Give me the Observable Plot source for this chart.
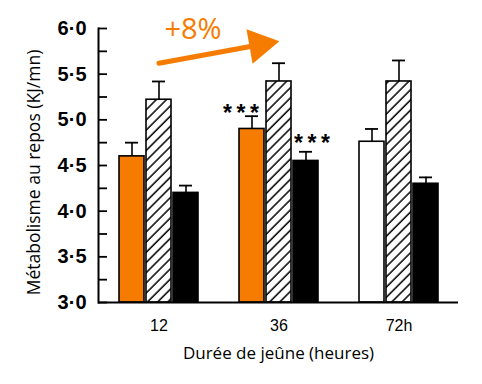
<!DOCTYPE html>
<html><head><meta charset="utf-8">
<script src="https://cdn.jsdelivr.net/npm/d3@7"></script>
<script src="https://cdn.jsdelivr.net/npm/@observablehq/plot@0.6"></script>
<style>body{margin:0;background:#fff}</style>
</head><body><div id="chart"></div>
<script>
// ---- data ----
const groups = ["12", "36", "72h"];
const seriesNames = ["A", "B", "C"];
const valuesA = [4.60, 4.90, 4.76];
const errorsA = [0.15, 0.14, 0.14];
const valuesB = [5.22, 5.42, 5.42];
const errorsB = [0.20, 0.20, 0.23];
const valuesC = [4.20, 4.55, 4.30];
const errorsC = [0.08, 0.10, 0.07];
const yLabelTicks = [3.0, 3.5, 4.0, 4.5, 5.0, 5.5, 6.0];
const yAllTicks = [3.0, 3.25, 3.5, 3.75, 4.0, 4.25, 4.5, 4.75, 5.0, 5.25, 5.5, 5.75, 6.0];
const yTitle = "Métabolisme au repos (KJ/mn)";
const xTitle = "Durée de jeûne (heures)";
const arrowFrom = ["12"], arrowTo = ["36"], arrowY1 = [5.62], arrowY2 = [5.86];
const pctText = ["+8%"], pctGroup = ["12"], pctY = [6.0];
const starGroups = ["36", "36"], starSeries = ["A", "C"], starY = [5.13, 4.80];

// ---- build table ----
const valueSets = {A: [valuesA, errorsA], B: [valuesB, errorsB], C: [valuesC, errorsC]};
const bars = groups.flatMap((g, i) => seriesNames.map(s => ({group: g, series: s, value: valueSets[s][0][i], error: valueSets[s][1][i]})));
const arrows = arrowFrom.map((f, i) => ({from: f, to: arrowTo[i], y1: arrowY1[i], y2: arrowY2[i]}));
const pct = pctText.map((t, i) => ({text: t, group: pctGroup[i], y: pctY[i]}));
const stars = starGroups.map((g, i) => ({group: g, series: starSeries[i], y: starY[i]}));

const ORANGE = "#F57C00";
const W = 482, H = 384, ML = 98, MR = 24, MT = 28, MB = 82;
const step = 27;
const offset = {A: -step, B: 0, C: step};
const starOffset = {A: -38, C: 33};
const fillOf = d => d.series === "A" ? (d.group === "72h" ? "white" : ORANGE) : d.series === "B" ? "url(#hatch)" : "black";
const titleFont = "'Open Sans', Lato, sans-serif";
const tickFont = "'Liberation Sans', Arial, sans-serif";

const seriesMarks = seriesNames.flatMap(s => {
  const data = bars.filter(d => d.series === s);
  return [
    Plot.ruleX(data, {x: "group", y1: "value", y2: d => d.value + d.error, dx: offset[s], stroke: "black", strokeWidth: 1.6}),
    Plot.tickY(data, {x: "group", y: d => d.value + d.error, dx: offset[s], insetLeft: 6, insetRight: 6, stroke: "black", strokeWidth: 1.8}),
    Plot.barY(data, {x: "group", y1: yLabelTicks[0], y2: "value", dx: offset[s], fill: fillOf, stroke: "black", strokeWidth: 1.6})
  ];
});
const starMarks = ["A", "C"].map(s => Plot.text(stars.filter(d => d.series === s),
  {x: "group", y: "y", dx: starOffset[s], dy: 6, text: () => "*\u2009*\u2009*", fontSize: 23, fontWeight: "bold", fontFamily: tickFont, fill: "black"}));

const chart = Plot.plot({
  width: W, height: H,
  marginLeft: ML, marginRight: MR, marginTop: MT, marginBottom: MB,
  style: {background: "white", color: "black"},
  x: {domain: groups, paddingInner: 1 - 25 / 120, paddingOuter: 0.395, axis: null},
  y: {domain: [3, 6], axis: null},
  color: {type: "identity"},
  marks: [
    ...seriesMarks,
    Plot.ruleY([3], {stroke: "black", strokeWidth: 2}),
    Plot.frame({anchor: "left", stroke: "black", strokeWidth: 2}),
    Plot.tickY(yAllTicks, {y: d => d, insetRight: W - ML - MR - 9, stroke: "black", strokeWidth: 1.8}),
    Plot.axisY(yLabelTicks, {anchor: "left", tickSize: 0, tickPadding: 12, label: null,
      tickFormat: d => d.toFixed(1).replace(".", "\u00B7"), fontSize: 20, fontWeight: "bold", fontFamily: tickFont}),
    Plot.axisX({anchor: "bottom", tickSize: 0, tickPadding: 17, label: null, fontSize: 16, fontWeight: 500, fontFamily: tickFont}),
    Plot.text([yTitle], {frameAnchor: "left", textAnchor: "middle", rotate: -90, dx: -64, dy: 7, fontSize: 17.5, fontFamily: titleFont, fill: "black"}),
    Plot.text([xTitle], {frameAnchor: "bottom", dy: 56, fontSize: 17, fontFamily: titleFont, fill: "black"}),
    ...starMarks,
    Plot.arrow(arrows, {x1: "from", y1: "y1", x2: "to", y2: "y2", stroke: ORANGE, strokeWidth: 5, headLength: 0, insetEnd: 18}),
    Plot.dot(arrows, {x: "to", y: "y2", symbol: "triangle", r: 13, fill: ORANGE, stroke: null, rotate: 80, dx: -19.5, dy: 3.5}),
    Plot.text(pct, {x: "group", y: "y", text: "text", dx: 34, dy: 1, fontSize: 29, fontWeight: 500, fontFamily: titleFont, fill: ORANGE})
  ]
});
document.getElementById("chart").appendChild(chart);
const svg = d3.select(chart);
svg.insert("defs", ":first-child").html(
  '<pattern id="hatch" patternUnits="userSpaceOnUse" width="7.2" height="7.2" patternTransform="rotate(45)">' +
  '<rect width="7.2" height="7.2" fill="white"/><line x1="1" y1="0" x2="1" y2="7.2" stroke="black" stroke-width="1.5"/></pattern>');
</script>
</body></html>
